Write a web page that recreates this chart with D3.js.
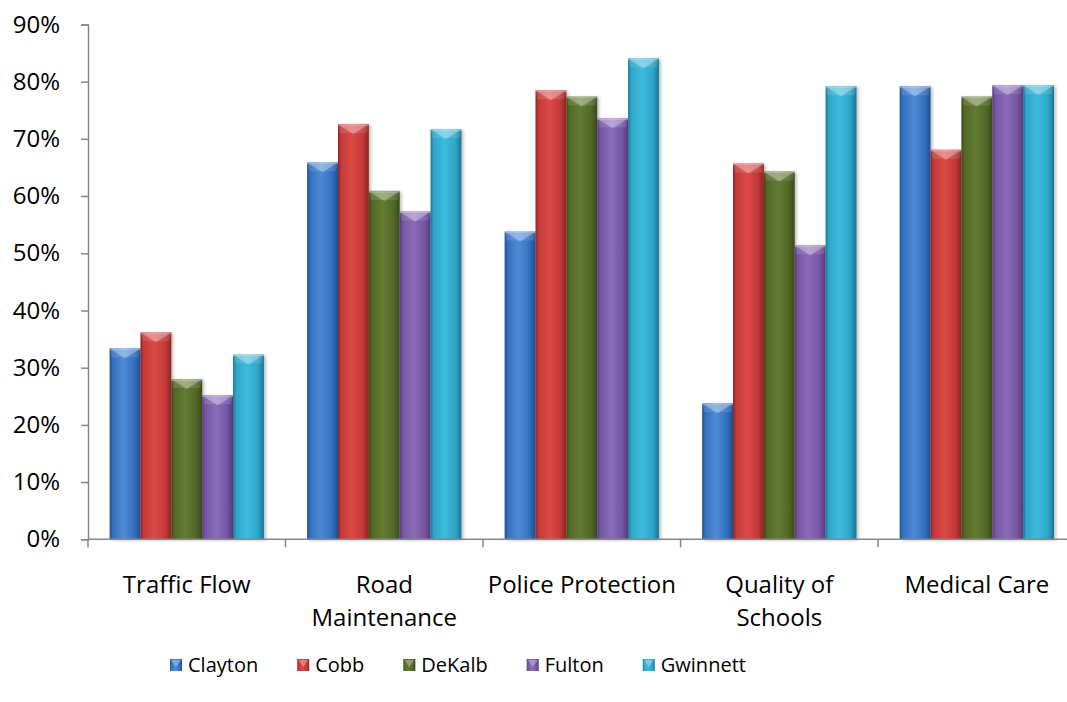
<!DOCTYPE html>
<html><head><meta charset="utf-8">
<script src="https://cdn.jsdelivr.net/npm/d3@7/dist/d3.min.js"></script>
<style>
body{margin:0;background:#fff}
svg text{font-family:"Open Sans",sans-serif;fill:#000}
</style>
</head><body>
<svg id="chart" width="1067" height="702"></svg>
<script>
// ---- data ----
const categories = ["Traffic Flow", "Road Maintenance", "Police Protection", "Quality of Schools", "Medical Care"];
const categoryLines = [["Traffic Flow"], ["Road", "Maintenance"], ["Police Protection"], ["Quality of", "Schools"], ["Medical Care"]];
const seriesNames = ["Clayton", "Cobb", "DeKalb", "Fulton", "Gwinnett"];
const clayton  = [0.334, 0.659, 0.538, 0.238, 0.792];
const cobb     = [0.362, 0.726, 0.785, 0.657, 0.681];
const dekalb   = [0.280, 0.609, 0.774, 0.643, 0.774];
const fulton   = [0.252, 0.573, 0.736, 0.514, 0.794];
const gwinnett = [0.323, 0.717, 0.841, 0.792, 0.794];
const yTicks = [0, 0.1, 0.2, 0.3, 0.4, 0.5, 0.6, 0.7, 0.8, 0.9];
const seriesValues = [clayton, cobb, dekalb, fulton, gwinnett];
const seriesColors = [
  {dark:"#1f4f8f", base:"#3470bf", light:"#4d8ad6"},
  {dark:"#8e2421", base:"#c3393a", light:"#dc4a46"},
  {dark:"#3a4a1a", base:"#536828", light:"#637b32"},
  {dark:"#57397f", base:"#7556a4", light:"#8a6cb8"},
  {dark:"#1a7592", base:"#2ea6c8", light:"#3ebbdc"}
];

const svg = d3.select("#chart");
const x0 = 88, x1 = 1075.6, yBase = 539.3, yTop = 24.4;
const axisColor = "#878787";

const x = d3.scaleBand().domain(categories).range([x0, x1]).paddingInner(0).paddingOuter(0);
const xs = d3.scaleBand().domain(seriesNames).range([0, x.bandwidth()]).paddingInner(0).paddingOuter(0.7);
const y = d3.scaleLinear().domain([0, 0.9]).range([yBase, yTop]);

// gradients
const defs = svg.append("defs");
seriesNames.forEach((s, i) => {
  const c = seriesColors[i];
  const g = defs.append("linearGradient").attr("id", "g" + i).attr("x1", "0").attr("x2", "1").attr("y1", "0").attr("y2", "0");
  [[0, c.dark], [0.1, c.base], [0.45, c.light], [0.8, c.base], [1, c.dark]].forEach(([o, col]) =>
    g.append("stop").attr("offset", o).attr("stop-color", col));
});
const f = defs.append("filter").attr("id", "sh").attr("x", "-20%").attr("y", "-5%").attr("width", "150%").attr("height", "115%");
f.append("feDropShadow").attr("dx", 2).attr("dy", 1).attr("stdDeviation", 1.5).attr("flood-color", "#000").attr("flood-opacity", 0.25);

// y axis
const yAxis = svg.append("g").attr("transform", `translate(${x0},0)`)
  .call(d3.axisLeft(y).tickValues(yTicks).tickSize(7).tickPadding(21).tickFormat(d3.format(".0%")));
yAxis.selectAll("path,line").attr("stroke", axisColor).attr("stroke-width", 1.5);
yAxis.selectAll("text").style("font-size", "24px").style("font-family", "'Open Sans',sans-serif").attr("fill", "#000");

// bars
seriesNames.forEach((s, i) => {
  const g = svg.append("g");
  const vals = seriesValues[i];
  categories.forEach((c, j) => {
    const bx = x(c) + xs(s), bw = xs.bandwidth(), by = y(vals[j]), bh = y(0) - y(vals[j]);
    g.append("rect").attr("x", bx).attr("y", by).attr("width", bw).attr("height", bh)
      .attr("fill", `url(#g${i})`).attr("filter", "url(#sh)");
    const b = 9;
    g.append("polygon")
      .attr("points", [[bx, by], [bx + bw, by], [bx + bw - 2, by + b], [bx + 2, by + b]].map(p => p.join(",")).join(" "))
      .attr("fill", "#fff").attr("fill-opacity", 0.12);
    g.append("polygon")
      .attr("points", [[bx + 1, by + 1], [bx + bw - 1, by + 1], [bx + bw / 2, by + b + 1]].map(p => p.join(",")).join(" "))
      .attr("fill", "#fff").attr("fill-opacity", 0.3);
    g.append("rect").attr("x", bx).attr("y", by).attr("width", bw).attr("height", 1.5).attr("fill", "#fff").attr("fill-opacity", 0.35);
  });
});

// x axis
const xg = svg.append("g");
xg.append("line").attr("x1", x0).attr("x2", x1).attr("y1", yBase).attr("y2", yBase).attr("stroke", axisColor).attr("stroke-width", 1.5);
const bounds = categories.map(c => x(c)).concat([x.range()[1]]);
xg.selectAll("line.tk").data(bounds).enter().append("line").attr("class", "tk")
  .attr("x1", d => d).attr("x2", d => d).attr("y1", yBase).attr("y2", yBase + 8)
  .attr("stroke", axisColor).attr("stroke-width", 1.5);
categories.forEach((c, j) => {
  const t = xg.append("text").attr("text-anchor", "middle").style("font-size", "24px")
    .attr("x", x(c) + x.bandwidth() / 2).attr("y", 593);
  categoryLines[j].forEach((ln, k) => {
    t.append("tspan").attr("x", x(c) + x.bandwidth() / 2).attr("dy", k === 0 ? 0 : 32.5).text(ln);
  });
});

// legend
const lg = svg.append("g");
let lx = 170;
const ly = 672;
seriesNames.forEach((s, i) => {
  lg.append("rect").attr("x", lx).attr("y", ly - 13).attr("width", 12).attr("height", 12).attr("fill", `url(#g${i})`);
  lg.append("polygon").attr("points", [[lx + 1, ly - 12], [lx + 11, ly - 12], [lx + 6, ly - 5]].map(p => p.join(",")).join(" "))
    .attr("fill", "#fff").attr("fill-opacity", 0.3);
  const t = lg.append("text").attr("x", lx + 18).attr("y", ly).style("font-size", "20px").text(s);
  lx += 18 + t.node().getComputedTextLength() + 39;
});
</script>
</body></html>
